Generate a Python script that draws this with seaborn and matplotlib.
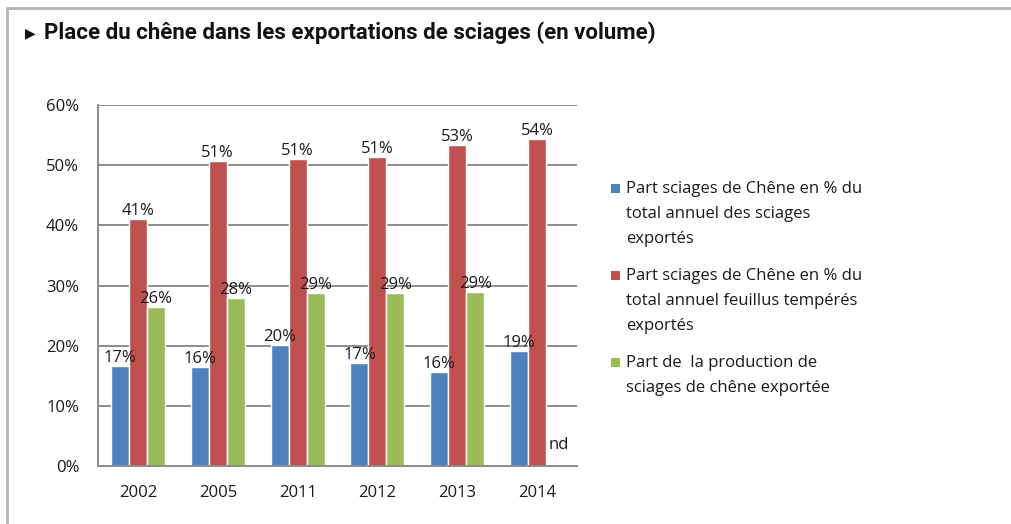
import numpy as np
import pandas as pd
import matplotlib
matplotlib.use("Agg")
import matplotlib.pyplot as plt
from matplotlib.lines import Line2D
from matplotlib.patches import Rectangle
import seaborn as sns

# data
years = ["2002", "2005", "2011", "2012", "2013", "2014"]
part_total = [16.7, 16.4, 20.1, 17.2, 15.6, 19.1]
part_feuillus = [41.1, 50.7, 51.0, 51.4, 53.3, 54.3]
part_production = [26.4, 27.9, 28.7, 28.7, 29.0, np.nan]
series_names = [
    "Part sciages de Chêne en % du\ntotal annuel des sciages\nexportés",
    "Part sciages de Chêne en % du\ntotal annuel feuillus tempérés\nexportés",
    "Part de  la production de\nsciages de chêne exportée",
]
colors = ["#4F81BD", "#C0504D", "#9BBB59"]
yticks = [0, 10, 20, 30, 40, 50, 60]

df = pd.DataFrame({
    "annee": years * 3,
    "valeur": part_total + part_feuillus + part_production,
    "serie": [series_names[0]] * 6 + [series_names[1]] * 6 + [series_names[2]] * 6,
})

sns.set_theme(style="white")
plt.rcParams["font.family"] = ["Open Sans", "DejaVu Sans"]
text_col = "#1a1a1a"
grid_col = "#8c8c8c"

fig = plt.figure(figsize=(10.11, 5.24), dpi=100)
ax = fig.add_axes([98 / 1011, 1 - 466 / 524, (577 - 98) / 1011, (466 - 105) / 524])

sns.barplot(data=df, x="annee", y="valeur", hue="serie", order=years,
            hue_order=series_names, palette=colors, width=0.675,
            saturation=1, ax=ax, legend=True)

ax.set_ylim(0, 60)
ax.set_yticks(yticks)
ax.set_yticklabels([f"{t}%" for t in yticks])
ax.set_xlabel("")
ax.set_ylabel("")
ax.set_axisbelow(True)
ax.yaxis.grid(True, color=grid_col, lw=1.4)
for s in ["top", "right"]:
    ax.spines[s].set_visible(False)
for s in ["left", "bottom"]:
    ax.spines[s].set_color(grid_col)
    ax.spines[s].set_linewidth(1.4)
ax.tick_params(axis="both", length=0, labelsize=12, colors=text_col)
ax.tick_params(axis="y", pad=13.5)
ax.tick_params(axis="x", pad=14)

# value labels
for cont in ax.containers:
    labs = []
    for b in cont:
        h = b.get_height()
        labs.append("" if np.isnan(h) else f"{h:.0f}%")
    ax.bar_label(cont, labels=labs, padding=0, fontsize=12, color=text_col)

# "nd" where the green 2014 value is missing
last_blue = ax.containers[0][-1]
ax.text(last_blue.get_x() + 2.7 * last_blue.get_width(), 2.2, "nd",
        ha="center", va="bottom", fontsize=12, color=text_col)

# legend on the right: square aligned with the first line of each label
handles, labels = ax.get_legend_handles_labels()
ax.get_legend().remove()
line_h = 26
y0 = 188  # centre of the first label line, in pixels from the top
for h, lab in zip(handles, labels):
    fig.text(626 / 1011, 1 - (y0 - 7) / 524, lab, fontsize=12, color=text_col,
             va="top", linespacing=1.77)
    fig.add_artist(Rectangle((611 / 1011, 1 - (y0 + 4.5) / 524), 9 / 1011, 9 / 524,
                             transform=fig.transFigure,
                             facecolor=h.get_facecolor(), edgecolor="none"))
    y0 += line_h * lab.count("\n") + line_h + 9

# title
fig.text(25 / 1011, 1 - 33 / 524, "\u25B6", fontsize=10, va="center",
         family=["DejaVu Sans"], color="#111111")
fig.text(44 / 1011, 1 - 33 / 524,
         "Place du chêne dans les exportations de sciages (en volume)",
         fontsize=16, fontweight="bold", va="center",
         family=["Roboto", "DejaVu Sans"], color="#111111")

# frame lines of the original figure box
fig.add_artist(Line2D([7 / 1011, 1], [1 - 8 / 524, 1 - 8 / 524],
                      transform=fig.transFigure, color="#b4b4b4", lw=2))
fig.add_artist(Line2D([7 / 1011, 7 / 1011], [0, 1 - 8 / 524],
                      transform=fig.transFigure, color="#b4b4b4", lw=2))

fig.savefig("out.png", dpi=100)
